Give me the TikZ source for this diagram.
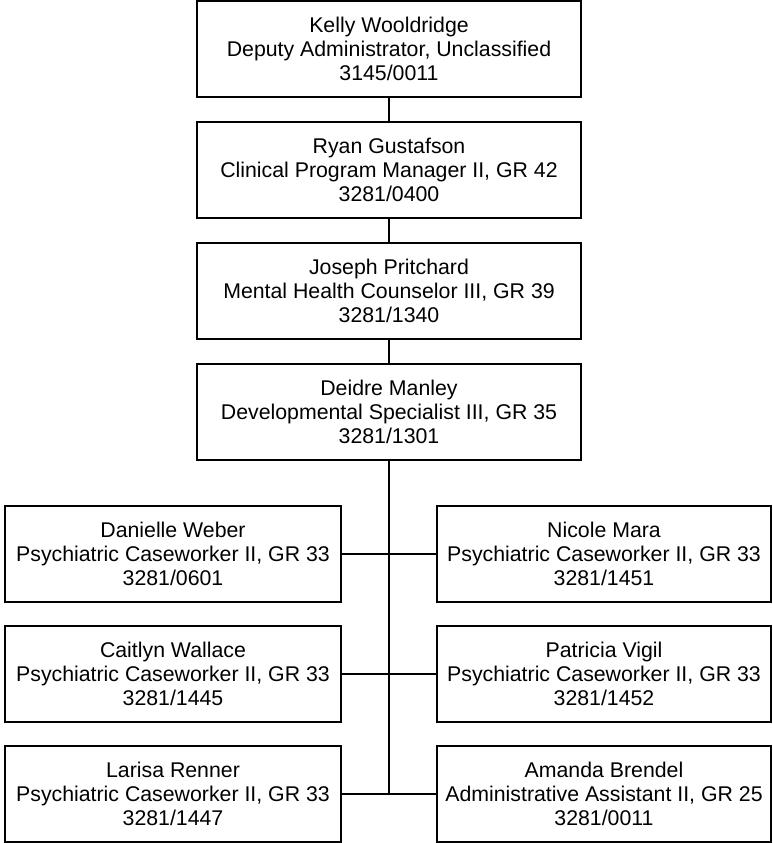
\documentclass[tikz,border=0pt]{standalone}
\usepackage{fontspec}
\setmainfont{Liberation Sans}
\begin{document}
\begin{tikzpicture}[x=1pt,y=-1pt,
  box/.style={draw=black,line width=1.6pt,fill=white,align=center,inner sep=0pt,
    font=\fontsize{21.3pt}{24pt}\selectfont,minimum height=96pt},
  topbox/.style={box,minimum width=384pt},
  lbox/.style={box,minimum width=336pt},
  rbox/.style={box,minimum width=334pt},
  link/.style={line width=1.6pt}]
\useasboundingbox (0,0) rectangle (773,843);
\node[topbox] (t1) at (389,49) {Kelly Wooldridge\\Deputy Administrator, Unclassified\\3145/0011};
\node[topbox] (t2) at (389,170) {Ryan Gustafson\\Clinical Program Manager II, GR 42\\3281/0400};
\node[topbox] (t3) at (389,291) {Joseph Pritchard\\Mental Health Counselor III, GR 39\\3281/1340};
\node[topbox] (t4) at (389,412) {Deidre Manley\\Developmental Specialist III, GR 35\\3281/1301};
\node[lbox] (l1) at (173,554) {Danielle Weber\\Psychiatric Caseworker II, GR 33\\3281/0601};
\node[lbox] (l2) at (173,674) {Caitlyn Wallace\\Psychiatric Caseworker II, GR 33\\3281/1445};
\node[lbox] (l3) at (173,794) {Larisa Renner\\Psychiatric Caseworker II, GR 33\\3281/1447};
\node[rbox] (r1) at (604,554) {Nicole Mara\\Psychiatric Caseworker II, GR 33\\3281/1451};
\node[rbox] (r2) at (604,674) {Patricia Vigil\\Psychiatric Caseworker II, GR 33\\3281/1452};
\node[rbox] (r3) at (604,794) {Amanda Brendel\\Administrative Assistant II, GR 25\\3281/0011};
\coordinate (spend) at (t4.south |- l3.east);
\draw[link] (t1.south) -- (t2.north);
\draw[link] (t2.south) -- (t3.north);
\draw[link] (t3.south) -- (t4.north);
\draw[link] (t4.south) -- (spend);
\draw[link] (l1.east) -- (r1.west);
\draw[link] (l2.east) -- (r2.west);
\draw[link] (l3.east) -- (r3.west);
\end{tikzpicture}
\end{document}
